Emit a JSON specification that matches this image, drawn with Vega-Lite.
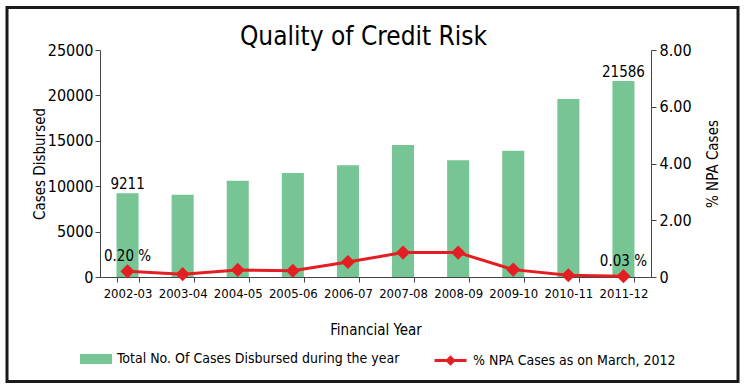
{
  "$schema": "https://vega.github.io/schema/vega-lite/v6.json",
  "autosize": {"type": "none"},
  "width": 551,
  "height": 227,
  "padding": {"left": 100, "top": 50, "right": 99, "bottom": 115},
  "background": "white",
  "config": {
    "font": "DejaVu Sans Condensed",
    "view": {"stroke": null},
    "axis": {"labelFont": "DejaVu Sans Condensed", "titleFont": "DejaVu Sans Condensed", "labelColor": "black", "titleColor": "black", "domainColor": "#444", "tickColor": "#444", "grid": false, "titleFontWeight": "normal"},
    "legend": {"labelFont": "DejaVu Sans Condensed", "labelColor": "black", "padding": 0, "offset": 0}
  },
  "title": {"text": "Quality of Credit Risk", "font": "DejaVu Sans Condensed", "fontSize": 26, "fontWeight": "normal", "color": "black", "anchor": "middle", "dx": -12, "dy": 72, "baseline": "alphabetic", "offset": 9},
  "data": {
    "values": [
      {"year": "2002-03", "cases": 9211, "npa": 0.20, "casesLabel": "9211", "npaLabel": "0.20 %"},
      {"year": "2003-04", "cases": 9050, "npa": 0.10, "casesLabel": "", "npaLabel": ""},
      {"year": "2004-05", "cases": 10600, "npa": 0.25, "casesLabel": "", "npaLabel": ""},
      {"year": "2005-06", "cases": 11450, "npa": 0.22, "casesLabel": "", "npaLabel": ""},
      {"year": "2006-07", "cases": 12300, "npa": 0.53, "casesLabel": "", "npaLabel": ""},
      {"year": "2007-08", "cases": 14550, "npa": 0.86, "casesLabel": "", "npaLabel": ""},
      {"year": "2008-09", "cases": 12850, "npa": 0.86, "casesLabel": "", "npaLabel": ""},
      {"year": "2009-10", "cases": 13900, "npa": 0.26, "casesLabel": "", "npaLabel": ""},
      {"year": "2010-11", "cases": 19600, "npa": 0.06, "casesLabel": "", "npaLabel": ""},
      {"year": "2011-12", "cases": 21586, "npa": 0.03, "casesLabel": "21586", "npaLabel": "0.03 %"}
    ]
  },
  "encoding": {
    "x": {
      "field": "year", "type": "nominal", "sort": null,
      "scale": {"paddingInner": 0.6, "paddingOuter": 0.3},
      "axis": {"title": "Financial Year", "titleFontSize": 15, "titlePadding": 22, "labelAngle": 0, "labelFontSize": 13, "labelPadding": 5, "tickBand": "extent", "tickSize": 5}
    }
  },
  "layer": [
    {
      "layer": [
        {
          "mark": {"type": "bar", "strokeWidth": 0},
          "encoding": {
            "y": {"field": "cases", "type": "quantitative", "scale": {"domain": [0, 25000], "nice": false, "zero": true},
              "axis": {"orient": "left", "title": "Cases Disbursed", "titleFontSize": 15, "titlePadding": 0, "values": [0, 5000, 10000, 15000, 20000, 25000], "format": "d", "labelFontSize": 16, "tickSize": 5, "labelPadding": 2}},
            "fill": {"datum": "Total No. Of Cases Disbursed during the year", "type": "nominal",
              "scale": {"range": ["#77C594"]},
              "legend": {"orient": "none", "legendX": -20, "legendY": 293, "title": null, "symbolType": "M-1,-0.3125H1V0.3125H-1Z", "symbolSize": 1024, "symbolStrokeWidth": 0, "labelFontSize": 14, "labelOffset": 5, "labelLimit": 500}},
            "stroke": {"field": "cases", "type": "quantitative",
              "scale": {"range": ["rgba(0,0,0,0)", "rgba(0,0,0,0)"]},
              "legend": {"type": "gradient", "orient": "none", "direction": "horizontal", "legendX": -93, "legendY": -42.5, "title": null, "labels": false, "labelOpacity": 0, "labelFontSize": 1, "labelColor": "rgba(0,0,0,0)", "gradientLength": 731, "gradientThickness": 374, "gradientStrokeColor": "#1a1a1a", "gradientStrokeWidth": 3}}
          }
        },
        {
          "mark": {"type": "text", "baseline": "bottom", "dy": -1, "fontSize": 15, "color": "black"},
          "encoding": {
            "y": {"field": "cases", "type": "quantitative"},
            "text": {"field": "casesLabel"}
          }
        }
      ]
    },
    {
      "layer": [
        {
          "mark": {"type": "line", "strokeWidth": 3},
          "encoding": {
            "y": {"field": "npa", "type": "quantitative", "scale": {"domain": [0, 8], "nice": false},
              "axis": {"orient": "right", "title": "% NPA Cases", "titleFontSize": 15, "titleAngle": 270, "titleBaseline": "top", "titlePadding": 14, "values": [0, 2, 4, 6, 8], "labelExpr": "datum.value == 0 ? '0' : format(datum.value, '.2f')", "labelFontSize": 16, "tickSize": 5, "labelPadding": 3}},
            "color": {"datum": "% NPA Cases as on March, 2012", "type": "nominal",
              "scale": {"range": ["#E41F23"]},
              "legend": {"orient": "none", "legendX": 333, "legendY": 293, "title": null, "symbolType": "M-1,0H1M-0.2,0L0,-0.2L0.2,0L0,0.2Z", "symbolSize": 1024, "symbolStrokeWidth": 3, "labelFontSize": 14, "labelOffset": 5, "labelLimit": 500,
                "encode": {"symbols": {"update": {"fill": {"value": "#E41F23"}, "stroke": {"value": "#E41F23"}}}}}}
          }
        },
        {
          "mark": {"type": "point", "shape": "diamond", "filled": true, "size": 200, "color": "#E41F23", "opacity": 1},
          "encoding": {"y": {"field": "npa", "type": "quantitative"}}
        },
        {
          "mark": {"type": "text", "baseline": "bottom", "dy": -7, "fontSize": 15, "color": "black"},
          "encoding": {
            "y": {"field": "npa", "type": "quantitative"},
            "text": {"field": "npaLabel"}
          }
        }
      ]
    }
  ],
  "resolve": {"scale": {"y": "independent"}}
}
